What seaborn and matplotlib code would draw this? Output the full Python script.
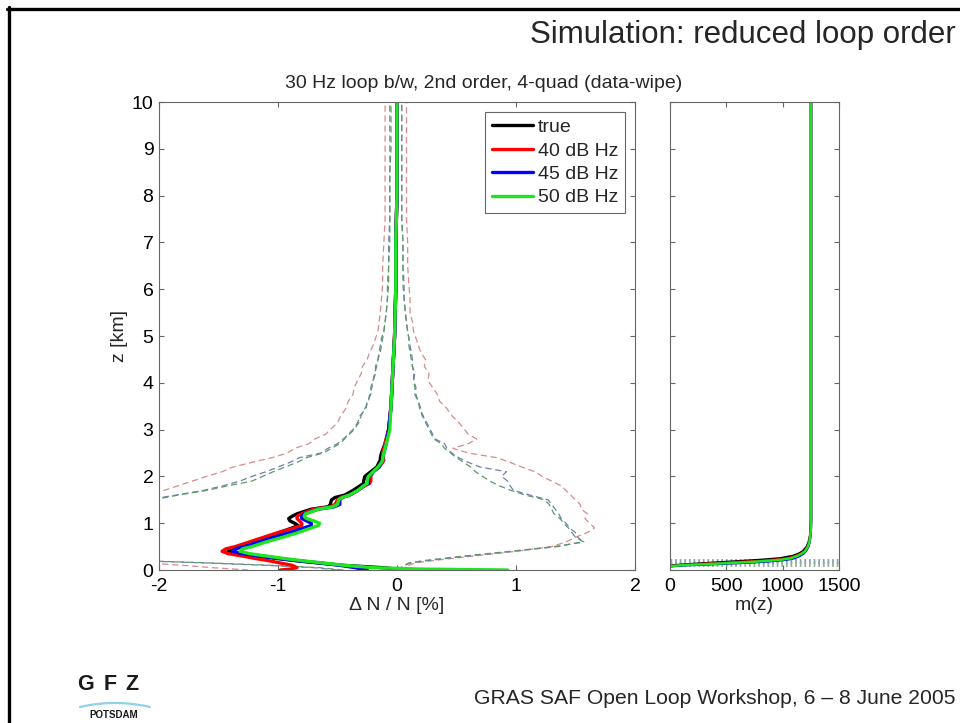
import numpy as np
import pandas as pd
import matplotlib
matplotlib.use("Agg")
import matplotlib.pyplot as plt
import seaborn as sns
from matplotlib.lines import Line2D

# ---------------------------------------------------------------------------
# Refractivity error profiles (Delta N / N in %) versus height z (km)
# ---------------------------------------------------------------------------
series_labels = ["true", "40 dB Hz", "45 dB Hz", "50 dB Hz"]
series_colors = ["black", "#ff0000", "#0000ff", "#1ee61e"]
env_colors = ["#d98a8a", "#6c7fb0", "#5f9a6a"]

z_prof = [0.0, 0.02, 0.05, 0.1, 0.15, 0.2, 0.25, 0.3, 0.35, 0.4,
          0.45, 0.5, 0.6, 0.7, 0.8, 0.9, 0.95, 1.0, 1.05, 1.1,
          1.15, 1.2, 1.3, 1.35, 1.4, 1.5, 1.55, 1.6, 1.7, 1.8,
          1.85, 1.9, 2.0, 2.1, 2.2, 2.3, 2.35, 2.4, 2.5, 2.7,
          3.0, 3.5, 4.0, 4.5, 5.0, 6.0, 7.0, 8.0, 9.0, 10.0]

dn_true = [0.05, 0.0, -0.12, -0.45, -0.66, -0.85, -1.02, -1.17, -1.32, -1.42,
           -1.41, -1.33, -1.22, -1.1, -0.99, -0.88, -0.83, -0.86, -0.9, -0.91,
           -0.88, -0.84, -0.72, -0.58, -0.56, -0.55, -0.52, -0.44, -0.37, -0.31,
           -0.28, -0.28, -0.27, -0.22, -0.17, -0.15, -0.14, -0.14, -0.13, -0.1,
           -0.07, -0.05, -0.04, -0.03, -0.02, -0.01, -0.01, 0.0, 0.0, 0.0]

dn_40 = [-0.98, -0.9, -0.84, -0.88, -0.98, -1.08, -1.2, -1.3, -1.42, -1.47,
         -1.44, -1.36, -1.24, -1.12, -1.0, -0.86, -0.8, -0.8, -0.82, -0.84,
         -0.84, -0.8, -0.7, -0.56, -0.52, -0.5, -0.47, -0.4, -0.33, -0.27,
         -0.23, -0.22, -0.22, -0.2, -0.15, -0.12, -0.11, -0.12, -0.12, -0.1,
         -0.07, -0.05, -0.04, -0.03, -0.02, -0.01, -0.01, 0.0, 0.0, 0.0]

dn_45 = [-0.25, -0.3, -0.35, -0.48, -0.64, -0.84, -1.0, -1.15, -1.3, -1.38,
         -1.36, -1.28, -1.16, -1.03, -0.9, -0.78, -0.72, -0.72, -0.76, -0.8,
         -0.8, -0.78, -0.66, -0.53, -0.48, -0.48, -0.46, -0.4, -0.33, -0.28,
         -0.24, -0.24, -0.24, -0.2, -0.15, -0.13, -0.12, -0.12, -0.11, -0.09,
         -0.07, -0.05, -0.04, -0.03, -0.02, -0.01, -0.01, 0.0, 0.0, 0.0]

dn_50 = [0.93, 0.2, -0.2, -0.44, -0.62, -0.8, -0.96, -1.1, -1.24, -1.32,
         -1.3, -1.22, -1.1, -0.96, -0.83, -0.72, -0.66, -0.65, -0.7, -0.76,
         -0.78, -0.77, -0.66, -0.54, -0.5, -0.49, -0.46, -0.4, -0.33, -0.28,
         -0.25, -0.25, -0.24, -0.2, -0.16, -0.13, -0.12, -0.12, -0.11, -0.09,
         -0.06, -0.05, -0.04, -0.03, -0.02, -0.01, -0.01, 0.0, 0.0, 0.0]

# Scatter envelopes (lower / upper) for the three signal levels
z_env = [0.0, 0.05, 0.1, 0.15, 0.2, 0.3, 0.4, 0.5, 0.6, 0.7,
         0.8, 0.9, 1.0, 1.1, 1.2, 1.3, 1.4, 1.5, 1.6, 1.7,
         1.8, 1.9, 2.0, 2.1, 2.2, 2.3, 2.4, 2.5, 2.6, 2.7,
         2.8, 2.9, 3.0, 3.15, 3.3, 3.45, 3.6, 3.75, 3.9, 4.05,
         4.2, 4.35, 4.5, 4.65, 4.8, 4.95, 5.1, 5.3, 5.5, 5.8,
         6.1, 6.5, 7.0, 7.5, 8.0, 8.5, 9.0, 9.5, 10.0]

lo_40 = [-1.25, -1.55, -1.8, -2.1, -2.6, -3.2,
         -3.5, -3.6, -3.6, -3.5, -3.4, -3.3, -3.2, -3.1, -3.0, -2.9, -2.7, -2.5,
         -2.15, -1.96, -1.84, -1.72, -1.6, -1.47, -1.38, -1.22, -1.05, -0.92,
         -0.86, -0.74, -0.69, -0.6, -0.56,
         -0.5, -0.47, -0.43, -0.41, -0.37, -0.36, -0.33, -0.3, -0.29, -0.25,
         -0.23, -0.2, -0.18,
         -0.16, -0.15, -0.14, -0.13, -0.12, -0.12, -0.11, -0.1, -0.1, -0.1,
         -0.1, -0.1, -0.1]
hi_40 = [0.02, 0.06, 0.1, 0.15, 0.3, 0.65, 1.0, 1.3, 1.42, 1.5, 1.6, 1.66,
         1.62, 1.58, 1.6, 1.55, 1.54, 1.5,
         1.46, 1.42, 1.38, 1.3, 1.22, 1.16, 1.05, 0.95, 0.84, 0.6, 0.47, 0.6,
         0.67, 0.6, 0.57,
         0.52, 0.46, 0.42, 0.36, 0.34, 0.3, 0.26, 0.27, 0.23, 0.24, 0.2, 0.18,
         0.16,
         0.14, 0.13, 0.11, 0.11, 0.1, 0.09, 0.09, 0.08, 0.08, 0.08, 0.08, 0.08,
         0.08]

lo_45 = [-0.5, -0.7, -1.1, -1.6, -2.2, -2.9,
         -3.3, -3.4, -3.4, -3.3, -3.2, -3.1, -3.0, -2.9, -2.8, -2.6, -2.4, -2.1,
         -1.86, -1.63, -1.46, -1.32, -1.22, -1.1, -1.0, -0.9, -0.82, -0.64,
         -0.58, -0.5, -0.45, -0.41, -0.37,
         -0.33, -0.31, -0.26, -0.25, -0.22, -0.22, -0.2, -0.18, -0.18, -0.16,
         -0.15, -0.14, -0.13,
         -0.11, -0.1, -0.09, -0.08, -0.08, -0.07, -0.07, -0.06, -0.06, -0.06,
         -0.06, -0.06, -0.06]
hi_45 = [0.0, 0.04, 0.07, 0.11, 0.25, 0.6, 0.98, 1.35, 1.56, 1.52, 1.5, 1.45,
         1.42, 1.38, 1.36, 1.33, 1.3, 1.27,
         1.12, 0.98, 0.95, 0.93, 0.88, 0.92, 0.7, 0.6, 0.52, 0.46, 0.42, 0.4,
         0.32, 0.3, 0.28,
         0.25, 0.21, 0.2, 0.18, 0.15, 0.16, 0.14, 0.15, 0.13, 0.13, 0.12, 0.11,
         0.1,
         0.09, 0.08, 0.07, 0.06, 0.06, 0.05, 0.05, 0.04, 0.04, 0.04, 0.04, 0.04,
         0.04]

lo_50 = [-0.45, -0.65, -1.05, -1.55, -2.15, -2.8,
         -3.2, -3.3, -3.3, -3.2, -3.1, -3.0, -2.9, -2.8, -2.7, -2.5, -2.3, -2.05,
         -1.84, -1.6, -1.42, -1.22, -1.13, -1.04, -0.94, -0.84, -0.76, -0.62,
         -0.55, -0.48, -0.44, -0.4, -0.36,
         -0.32, -0.3, -0.27, -0.24, -0.23, -0.21, -0.2, -0.19, -0.17, -0.16,
         -0.14, -0.13, -0.12,
         -0.11, -0.1, -0.09, -0.08, -0.07, -0.07, -0.06, -0.06, -0.06, -0.06,
         -0.05, -0.05, -0.05]
hi_50 = [0.0, 0.03, 0.06, 0.1, 0.22, 0.57, 0.95, 1.32, 1.57, 1.5, 1.47, 1.44,
         1.4, 1.37, 1.32, 1.3, 1.28, 1.24,
         1.08, 0.96, 0.86, 0.78, 0.72, 0.66, 0.62, 0.56, 0.5, 0.45, 0.4, 0.37,
         0.31, 0.29, 0.27,
         0.24, 0.22, 0.19, 0.18, 0.16, 0.15, 0.14, 0.14, 0.13, 0.12, 0.11, 0.1,
         0.1,
         0.09, 0.08, 0.07, 0.06, 0.05, 0.05, 0.05, 0.04, 0.04, 0.04, 0.04, 0.04,
         0.04]

# Mapping function m(z)
z_m = [0.08, 0.1, 0.12, 0.14, 0.16, 0.18, 0.2, 0.22, 0.25, 0.3,
       0.35, 0.4, 0.5, 0.6, 0.75, 0.9, 1.1, 2.0, 10.0]
m_true = [0, 30, 150, 280, 420, 560, 700, 830, 980, 1090,
          1145, 1180, 1215, 1232, 1245, 1250, 1252, 1252, 1252]
m_40 = [0, 60, 220, 380, 540, 700, 840, 940, 1050, 1120,
        1165, 1195, 1222, 1236, 1246, 1250, 1252, 1252, 1252]
m_45 = [0, 120, 330, 520, 700, 840, 950, 1030, 1100, 1150,
        1185, 1205, 1228, 1240, 1248, 1251, 1252, 1252, 1252]
m_50 = [0, 90, 270, 450, 620, 770, 890, 990, 1070, 1130,
        1170, 1198, 1225, 1238, 1247, 1251, 1252, 1252, 1252]

# Noise-floor bands in the m(z) panel
band_z = [0.2, 0.13]
band_colors = ["#8a9bb8", "#8fb09a"]

x_ticks = [-2, -1, 0, 1, 2]
z_ticks = list(range(0, 11))
m_ticks = [0, 500, 1000, 1500]

# ---------------------------------------------------------------------------
sns.set_style("ticks", {"xtick.direction": "in", "ytick.direction": "in",
                        "axes.edgecolor": "#666666"})
plt.rcParams["font.family"] = ["Liberation Sans", "DejaVu Sans"]
plt.rcParams["xtick.color"] = "#666666"
plt.rcParams["ytick.color"] = "#666666"
plt.rcParams["xtick.labelcolor"] = "black"
plt.rcParams["ytick.labelcolor"] = "black"

FS = 14
fig = plt.figure(figsize=(9.6, 7.23), dpi=100)
fig.patch.set_facecolor("white")

ax = fig.add_axes([0.1656, 0.2116, 0.4958, 0.6473])
axm = fig.add_axes([0.6979, 0.2116, 0.176, 0.6473])

prof_df = pd.DataFrame({
    "z": z_prof * 4,
    "dn": dn_true + dn_40 + dn_45 + dn_50,
    "series": sum([[s] * len(z_prof) for s in series_labels], []),
})
env_df = pd.DataFrame({
    "z": z_env * 6,
    "dn": lo_40 + hi_40 + lo_45 + hi_45 + lo_50 + hi_50,
    "series": sum([[s] * (2 * len(z_env)) for s in series_labels[1:]], []),
    "side": sum([[k] * len(z_env) for k in ["lo", "hi"] * 3], []),
})

# dashed scatter envelopes
for lab, col in zip(series_labels[1:], env_colors):
    for side in ["lo", "hi"]:
        sub = env_df[(env_df.series == lab) & (env_df.side == side)]
        sns.lineplot(data=sub, x="dn", y="z", sort=False, estimator=None,
                     color=col, lw=0.9, linestyle=(0, (5, 3)), ax=ax,
                     legend=False)

# solid mean profiles
for lab, col in zip(series_labels, series_colors):
    sub = prof_df[prof_df.series == lab]
    sns.lineplot(data=sub, x="dn", y="z", sort=False, estimator=None,
                 color=col, lw=2.4, ax=ax, label=lab, legend=False)

ax.set_xlim(-2, 2)
ax.set_ylim(0, 10)
ax.set_xticks(x_ticks)
ax.set_yticks(z_ticks)
ax.set_xticklabels([str(t) for t in x_ticks])
ax.set_xlabel("\u0394 N / N [%]", fontsize=FS, labelpad=1)
ax.set_ylabel("z [km]", fontsize=FS, labelpad=3)

handles = [Line2D([], [], color=c, lw=2.4) for c in series_colors]
leg = ax.legend(handles, series_labels, loc="upper right", fontsize=FS,
                frameon=True, fancybox=False, framealpha=1,
                edgecolor="#666666", borderaxespad=0.5, borderpad=0.35,
                handlelength=2.1, handletextpad=0.25, labelspacing=0.3)
leg.get_frame().set_linewidth(0.8)

# m(z) panel
for zb, cb in zip(band_z, band_colors):
    axm.axhline(zb, color=cb, lw=3.5, linestyle=(0, (0.35, 0.6)), zorder=1)
for m_vals, lab, col in zip([m_true, m_40, m_45, m_50], series_labels,
                            series_colors):
    sns.lineplot(x=m_vals, y=z_m, sort=False, estimator=None, color=col,
                 lw=1.8, ax=axm, legend=False)

axm.set_xlim(0, 1500)
axm.set_ylim(0, 10)
axm.set_xticks(m_ticks)
axm.set_yticks(z_ticks)
axm.set_yticklabels([])
axm.set_xlabel("m(z)", fontsize=FS, labelpad=1)
axm.set_ylabel("")

for a in (ax, axm):
    for sp in a.spines.values():
        sp.set_visible(True)
        sp.set_linewidth(0.8)
        sp.set_color("#666666")
    a.tick_params(which="both", direction="in", length=3.8, width=0.8,
                  top=True, right=True, labelsize=FS)
    a.tick_params(axis="x", pad=6)
    a.tick_params(axis="y", pad=4)

# titles and slide texts
fig.text(484 / 960, 1 - 83 / 723, "30 Hz loop b/w, 2nd order, 4-quad (data-wipe)",
         ha="center", va="center", fontsize=FS)
fig.text(956 / 960, 1 - 35 / 723, "Simulation: reduced loop order",
         ha="right", va="center", fontsize=22.5)
fig.text(955 / 960, 1 - 699 / 723, "GRAS SAF Open Loop Workshop, 6 \u2013 8 June 2005",
         ha="right", va="center", fontsize=15.2)

# GFZ logo
for ch, xc in zip("GFZ", [85, 110, 132]):
    fig.text(xc / 960, 1 - 684 / 723, ch, ha="center", va="center",
             fontsize=15.5, fontweight="bold", color="#1a1a1a")
arc_t = np.linspace(-1, 1, 60)
arc_x = (115 + 35 * arc_t) / 960
arc_y = 1 - (703 + 4 * arc_t ** 2) / 723
fig.add_artist(Line2D(arc_x, arc_y, color="#8fd0ea", lw=1.6,
                      transform=fig.transFigure))
fig.text(114 / 960, 1 - 715 / 723, "POTSDAM", ha="center", va="center",
         fontsize=7, fontweight="bold", color="#1a1a1a")

# slide frame (top and left edges)
fig.add_artist(Line2D([7 / 960, 1.0], [1 - 8.5 / 723, 1 - 8.5 / 723],
                      color="black", lw=2.4, transform=fig.transFigure))
fig.add_artist(Line2D([8.5 / 960, 8.5 / 960], [1 - 7 / 723, 0.0],
                      color="black", lw=2.4, transform=fig.transFigure))

fig.savefig("out.png", dpi=100, facecolor="white")
